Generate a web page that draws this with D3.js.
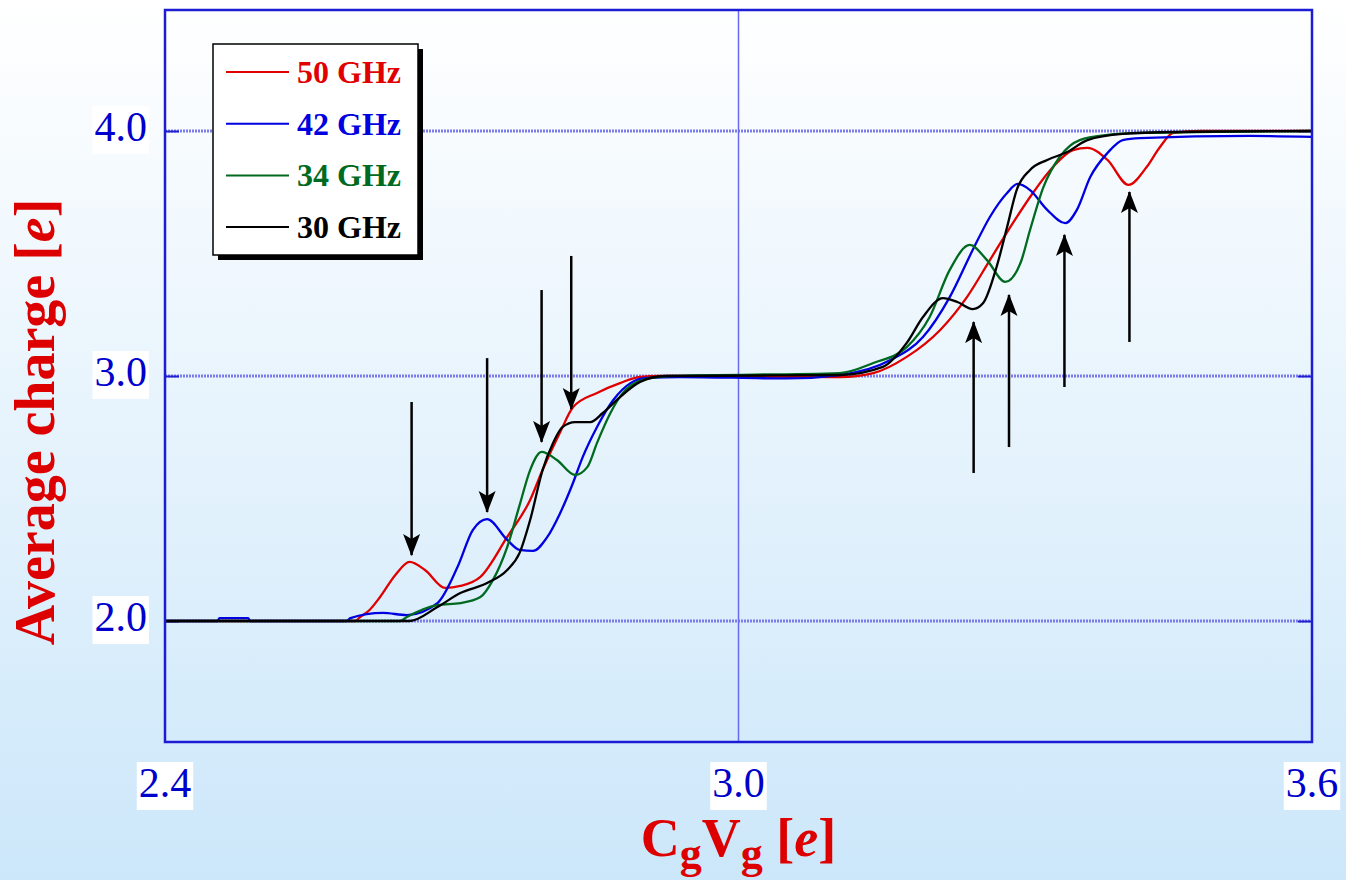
<!DOCTYPE html>
<html>
<head>
<meta charset="utf-8">
<script src="https://cdn.jsdelivr.net/npm/d3@7"></script>
<style>
  body { margin: 0; }
  svg { display: block; }
</style>
</head>
<body>
<svg id="chart" width="1346" height="880"></svg>
<script>
// Data: [CgVg, average charge]
var red50 = [
  [2.4, 2.0], [2.599, 2.0], [2.604, 2.016], [2.614, 2.045], [2.625, 2.098], [2.641, 2.188],
  [2.656, 2.241], [2.672, 2.208], [2.693, 2.135], [2.709, 2.143], [2.730, 2.180], [2.758, 2.343],
  [2.782, 2.494], [2.795, 2.616], [2.813, 2.767], [2.827, 2.873], [2.852, 2.931], [2.876, 2.971],
  [2.897, 2.996], [2.918, 3.0], [3.106, 2.996], [3.141, 3.012], [3.176, 3.078], [3.211, 3.188],
  [3.239, 3.322], [3.263, 3.473], [3.287, 3.624], [3.308, 3.747], [3.329, 3.853], [3.350, 3.922],
  [3.365, 3.931], [3.386, 3.882], [3.408, 3.780], [3.427, 3.853], [3.441, 3.935], [3.455, 3.992],
  [3.483, 4.0], [3.6, 4.0]
]
var blue42 = [
  [2.4, 2.0], [2.455, 2.0], [2.457, 2.012], [2.487, 2.012], [2.489, 2.0], [2.590, 2.0],
  [2.594, 2.012], [2.628, 2.033], [2.653, 2.024], [2.685, 2.073], [2.706, 2.220], [2.722, 2.371],
  [2.737, 2.416], [2.758, 2.331], [2.771, 2.290], [2.785, 2.286], [2.800, 2.343], [2.813, 2.437],
  [2.826, 2.555], [2.837, 2.669], [2.852, 2.792], [2.869, 2.902], [2.887, 2.971], [2.904, 2.992],
  [2.939, 2.996], [3.05, 2.99], [3.106, 3.004], [3.159, 3.065], [3.193, 3.159], [3.221, 3.322],
  [3.245, 3.514], [3.263, 3.649], [3.281, 3.747], [3.292, 3.784], [3.305, 3.759], [3.323, 3.678],
  [3.342, 3.624], [3.354, 3.678], [3.368, 3.812], [3.386, 3.910], [3.402, 3.963], [3.420, 3.971],
  [3.535, 3.980], [3.6, 3.976]
]
var green34 = [
  [2.4, 2.0], [2.646, 2.0], [2.653, 2.016], [2.685, 2.065], [2.709, 2.073], [2.730, 2.098],
  [2.743, 2.167], [2.758, 2.302], [2.771, 2.473], [2.782, 2.616], [2.794, 2.690], [2.810, 2.657],
  [2.829, 2.596], [2.842, 2.629], [2.852, 2.727], [2.866, 2.849], [2.879, 2.931], [2.900, 2.984],
  [2.928, 3.0], [3.106, 3.012], [3.141, 3.053], [3.176, 3.118], [3.200, 3.241], [3.221, 3.433],
  [3.242, 3.535], [3.260, 3.473], [3.279, 3.384], [3.295, 3.461], [3.305, 3.596], [3.319, 3.771],
  [3.336, 3.894], [3.357, 3.963], [3.386, 3.984], [3.420, 3.992], [3.6, 4.0]
]
var black30 = [
  [2.4, 2.0], [2.656, 2.0], [2.685, 2.057], [2.709, 2.114], [2.737, 2.155], [2.758, 2.208],
  [2.771, 2.278], [2.782, 2.412], [2.795, 2.616], [2.806, 2.727], [2.816, 2.792], [2.829, 2.812],
  [2.845, 2.812], [2.858, 2.849], [2.876, 2.914], [2.897, 2.976], [2.923, 3.0], [3.106, 3.004],
  [3.151, 3.037], [3.176, 3.135], [3.193, 3.241], [3.214, 3.318], [3.229, 3.302], [3.245, 3.273],
  [3.256, 3.298], [3.270, 3.445], [3.281, 3.608], [3.291, 3.759], [3.305, 3.841], [3.323, 3.882],
  [3.344, 3.914], [3.365, 3.963], [3.402, 3.988], [3.455, 3.996], [3.6, 4.0]
]

var seriesNames = ['50 GHz', '42 GHz', '34 GHz', '30 GHz']
var seriesColors = ['#e00000', '#0000e0', '#006a20', '#000000']
var seriesData = [red50, blue42, green34, black30]

var xTicks = [2.4, 3.0, 3.6]
var yTicks = [2.0, 3.0, 4.0]

// arrows: x, tip value, tail value
var arrowsDown = [[2.658, 2.269, 2.894], [2.737, 2.445, 3.073], [2.794, 2.731, 3.351], [2.825, 2.865, 3.490]]
var arrowsUp = [[3.246, 3.220, 2.604], [3.283, 3.331, 2.710], [3.341, 3.576, 2.955], [3.409, 3.751, 3.139]]

var serif = '"Liberation Serif", "Times New Roman", Times, serif'

var svg = d3.select('#chart')

// background
var defs = svg.append('defs')
var grad = defs.append('linearGradient')
  .attr('id', 'bg')
  .attr('x1', 0).attr('y1', 0).attr('x2', 0).attr('y2', 1)
grad.append('stop').attr('offset', '0%').attr('stop-color', '#ffffff')
grad.append('stop').attr('offset', '100%').attr('stop-color', '#cce7fa')

svg.append('rect')
  .attr('width', 1346)
  .attr('height', 880)
  .attr('fill', 'url(#bg)')

var margin = { top: 10, left: 165, right: 34, bottom: 138 }
var width = 1346 - margin.left - margin.right
var height = 880 - margin.top - margin.bottom

var xPositionScale = d3.scaleLinear().domain([2.4, 3.6]).range([0, width])
var yPositionScale = d3.scaleLinear().domain([1.5061, 4.4939]).range([height, 0])

var g = svg.append('g').attr('transform', 'translate(' + margin.left + ',' + margin.top + ')')

defs.append('clipPath').attr('id', 'clip')
  .append('rect').attr('width', width).attr('height', height)

// grid
g.selectAll('.hgrid')
  .data(yTicks)
  .enter()
  .append('line')
  .attr('class', 'hgrid')
  .attr('x1', 0)
  .attr('x2', width)
  .attr('y1', d => yPositionScale(d))
  .attr('y2', d => yPositionScale(d))
  .attr('stroke', '#7c7cea')
  .attr('stroke-width', 3)
  .attr('stroke-dasharray', '2,1')

g.append('line')
  .attr('x1', xPositionScale(3.0))
  .attr('x2', xPositionScale(3.0))
  .attr('y1', 0)
  .attr('y2', height)
  .attr('stroke', '#6a6af0')
  .attr('stroke-width', 1.5)

// inward ticks on left and right
var yAxisL = d3.axisLeft(yPositionScale).tickValues(yTicks).tickSize(-14).tickFormat('')
g.append('g').attr('class', 'axis y-axis').call(yAxisL)
var yAxisR = d3.axisRight(yPositionScale).tickValues(yTicks).tickSize(-14).tickFormat('')
g.append('g').attr('class', 'axis y-axis').attr('transform', 'translate(' + width + ',0)').call(yAxisR)
g.selectAll('.axis .domain').remove()
g.selectAll('.axis line').attr('stroke', '#2020d0').attr('stroke-width', 2)

// curves
var line = d3.line()
  .x(d => xPositionScale(d[0]))
  .y(d => yPositionScale(d[1]))
  .curve(d3.curveMonotoneX)

var curves = g.append('g').attr('clip-path', 'url(#clip)')
seriesData.forEach(function (data, i) {
  curves.append('path')
    .datum(data)
    .attr('d', line)
    .attr('fill', 'none')
    .attr('stroke', seriesColors[i])
    .attr('stroke-width', 2.3)
    .attr('stroke-linejoin', 'round')
})

// arrows
defs.append('marker')
  .attr('id', 'head')
  .attr('markerUnits', 'userSpaceOnUse')
  .attr('viewBox', '0 -9 22 18')
  .attr('refX', 21)
  .attr('refY', 0)
  .attr('markerWidth', 22)
  .attr('markerHeight', 18)
  .attr('orient', 'auto')
  .append('path')
  .attr('d', 'M0,-8.5 L22,0 L0,8.5 L5,0 Z')
  .attr('fill', '#000')

g.selectAll('.arrow')
  .data(arrowsDown.concat(arrowsUp))
  .enter()
  .append('line')
  .attr('class', 'arrow')
  .attr('x1', d => xPositionScale(d[0]))
  .attr('x2', d => xPositionScale(d[0]))
  .attr('y1', d => yPositionScale(d[2]))
  .attr('y2', d => yPositionScale(d[1]))
  .attr('stroke', '#000')
  .attr('stroke-width', 2.5)
  .attr('marker-end', 'url(#head)')

// plot border
g.append('rect')
  .attr('width', width)
  .attr('height', height)
  .attr('fill', 'none')
  .attr('stroke', '#1c1cd4')
  .attr('stroke-width', 2.5)

// tick labels with white boxes
function boxLabel(sel) {
  sel.each(function () {
    var t = d3.select(this)
    var b = this.getBBox()
    d3.select(this.parentNode)
      .insert('rect', function () { return t.node() })
      .attr('x', b.x - 2)
      .attr('y', b.y + 2)
      .attr('width', b.width + 4)
      .attr('height', b.height + 2)
      .attr('fill', '#ffffff')
  })
}

var yLab = g.selectAll('.ylab')
  .data(yTicks)
  .enter()
  .append('g')
  .attr('class', 'ylab')
yLab.append('text')
  .text(d => d.toFixed(1))
  .attr('x', -18)
  .attr('y', d => yPositionScale(d) + 10)
  .attr('text-anchor', 'end')
  .attr('font-family', serif)
  .attr('font-size', 42)
  .attr('fill', '#0000cc')
yLab.selectAll('text').call(boxLabel)

var xLab = g.selectAll('.xlab')
  .data(xTicks)
  .enter()
  .append('g')
  .attr('class', 'xlab')
xLab.append('text')
  .text(d => d.toFixed(1))
  .attr('x', d => xPositionScale(d))
  .attr('y', height + 55)
  .attr('text-anchor', 'middle')
  .attr('font-family', serif)
  .attr('font-size', 42)
  .attr('fill', '#0000cc')
xLab.selectAll('text').call(boxLabel)

// axis titles
var xt = svg.append('text')
  .attr('x', margin.left + xPositionScale(3.0))
  .attr('y', 856)
  .attr('text-anchor', 'middle')
  .attr('font-family', serif)
  .attr('font-weight', 'bold')
  .attr('font-size', 54)
  .attr('fill', '#dd0000')
xt.append('tspan').text('C')
xt.append('tspan').text('g').attr('dy', 12).attr('font-size', 44)
xt.append('tspan').text('V').attr('dy', -12)
xt.append('tspan').text('g').attr('dy', 12).attr('font-size', 44)
xt.append('tspan').text(' [').attr('dy', -12)
xt.append('tspan').text('e').attr('font-style', 'italic')
xt.append('tspan').text(']')

var yt = svg.append('text')
  .attr('transform', 'translate(54,' + 422 + ') rotate(-90)')
  .attr('text-anchor', 'middle')
  .attr('font-family', serif)
  .attr('font-weight', 'bold')
  .attr('font-size', 56)
  .attr('fill', '#dd0000')
yt.append('tspan').text('Average charge [')
yt.append('tspan').text('e').attr('font-style', 'italic')
yt.append('tspan').text(']')

// legend
var legend = svg.append('g').attr('transform', 'translate(213,44)')
legend.append('rect')
  .attr('x', 5).attr('y', 5)
  .attr('width', 205).attr('height', 211)
  .attr('fill', '#000')
legend.append('rect')
  .attr('width', 205).attr('height', 211)
  .attr('fill', '#fff')
  .attr('stroke', '#000')
  .attr('stroke-width', 1.5)

var items = legend.selectAll('.item')
  .data(seriesNames)
  .enter()
  .append('g')
  .attr('class', 'item')
  .attr('transform', (d, i) => 'translate(0,' + (28 + i * 51.7) + ')')
items.append('line')
  .attr('x1', 13).attr('x2', 76)
  .attr('stroke', (d, i) => seriesColors[i])
  .attr('stroke-width', 2)
items.append('text')
  .text(d => d)
  .attr('x', 84)
  .attr('y', 11)
  .attr('font-family', serif)
  .attr('font-weight', 'bold')
  .attr('font-size', 32)
  .attr('fill', (d, i) => seriesColors[i])
</script>
</body>
</html>
